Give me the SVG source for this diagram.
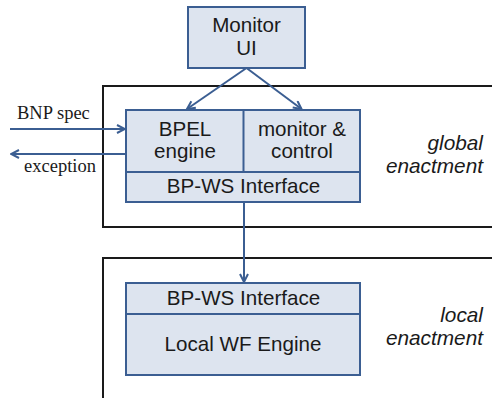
<svg xmlns="http://www.w3.org/2000/svg" width="492" height="398" viewBox="0 0 492 398">
  <style>
    .frame { fill: none; stroke: #1a1a1a; stroke-width: 2; }
    .box { fill: #dde4ef; stroke: #3b5e92; stroke-width: 2; }
    .sep { stroke: #3b5e92; stroke-width: 2; fill: none; }
    .wire { stroke: #3b5e92; stroke-width: 2; fill: none; }
    .lbl { font-family: "Liberation Sans", Arial, sans-serif; font-size: 20.6px; fill: #1a1a1a; text-anchor: middle; }
    .zone { font-family: "Liberation Sans", Arial, sans-serif; font-size: 20.8px; font-style: italic; fill: #1a1a1a; text-anchor: end; }
    .io { font-family: "Liberation Serif", "Times New Roman", serif; font-size: 18.5px; fill: #1a1a1a; }
  </style>
  <defs>
    <marker id="head" viewBox="0 0 10 10" refX="9" refY="5" markerWidth="10" markerHeight="10" markerUnits="userSpaceOnUse" orient="auto">
      <path d="M1,1 L9,5 L1,9" fill="none" stroke="#3b5e92" stroke-width="2"/>
    </marker>
  </defs>

  <rect width="492" height="398" fill="#ffffff"/>

  <!-- enactment layers -->
  <g id="global-layer">
    <path class="frame" d="M500,86 H103 V227 H500"/>
    <text class="zone" x="483" y="150">global</text>
    <text class="zone" x="483" y="173">enactment</text>
  </g>
  <g id="local-layer">
    <path class="frame" d="M500,258 H103 V410"/>
    <text class="zone" x="483" y="322">local</text>
    <text class="zone" x="483" y="345">enactment</text>
  </g>

  <!-- monitor UI -->
  <g id="monitor-ui">
    <rect class="box" x="188" y="7" width="117" height="61"/>
    <text class="lbl" x="246.5" y="32">Monitor</text>
    <text class="lbl" x="246.5" y="55">UI</text>
  </g>

  <!-- global engine -->
  <g id="global-engine">
    <rect class="box" x="126" y="110" width="234" height="92"/>
    <line class="sep" x1="243.5" y1="110" x2="243.5" y2="172"/>
    <line class="sep" x1="126" y1="172" x2="360" y2="172"/>
    <text class="lbl" x="185" y="136">BPEL</text>
    <text class="lbl" x="185" y="158">engine</text>
    <text class="lbl" x="302" y="136">monitor &amp;</text>
    <text class="lbl" x="302" y="158">control</text>
    <text class="lbl" x="243.5" y="193">BP-WS Interface</text>
  </g>

  <!-- local engine -->
  <g id="local-engine">
    <rect class="box" x="126" y="283" width="234" height="92"/>
    <line class="sep" x1="126" y1="314" x2="360" y2="314"/>
    <text class="lbl" x="243.5" y="305">BP-WS Interface</text>
    <text class="lbl" x="243" y="351">Local WF Engine</text>
  </g>

  <!-- external inputs / outputs -->
  <g id="io-labels">
    <text class="io" x="17" y="119">BNP spec</text>
    <text class="io" x="24" y="172">exception</text>
  </g>

  <!-- connectors -->
  <g id="connectors">
    <line class="wire" x1="246.5" y1="68" x2="187" y2="109" marker-end="url(#head)"/>
    <line class="wire" x1="246.5" y1="68" x2="301.5" y2="109" marker-end="url(#head)"/>
    <line class="wire" x1="10" y1="129" x2="125" y2="129" marker-end="url(#head)"/>
    <line class="wire" x1="126" y1="154" x2="11" y2="154" marker-end="url(#head)"/>
    <line class="wire" x1="244" y1="203" x2="244" y2="282" marker-end="url(#head)"/>
  </g>
</svg>
